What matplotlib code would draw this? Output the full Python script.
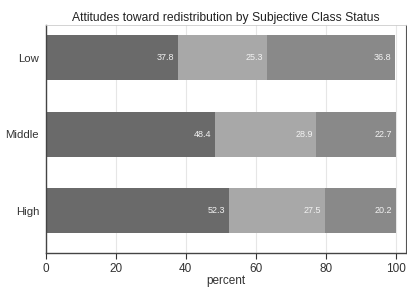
import matplotlib
matplotlib.use("Agg")
import matplotlib.pyplot as plt
import numpy as np

plt.rcParams["font.family"] = ["Liberation Sans", "DejaVu Sans"]

categories = ["High", "Middle", "Low"]
seg1 = [52.3, 48.4, 37.8]
seg2 = [27.5, 28.9, 25.3]
seg3 = [20.2, 22.7, 36.8]
colors = ["#6a6a6a", "#a8a8a8", "#898989"]

fig = plt.figure(figsize=(4.07, 2.89), dpi=100)
ax = fig.add_axes([46 / 407, 1 - 253 / 289, 360 / 407, 228 / 289])

y = np.arange(len(categories))
left = np.zeros(len(categories))
for vals, c in zip([seg1, seg2, seg3], colors):
    vals = np.array(vals)
    ax.barh(y, vals, left=left, height=0.59, color=c, edgecolor="none", zorder=2)
    for yi, l, v in zip(y, left, vals):
        ax.text(l + v - 1.0, yi, f"{v:.1f}", ha="right", va="center",
                color="#f2f2f2", fontsize=6.5, zorder=3)
    left = left + vals

ax.set_xlim(0, 103)
ax.set_ylim(-0.55, 2.43)
ax.set_yticks(y)
ax.set_yticklabels(categories, fontsize=8.2, color="#333333")
ax.set_xticks([0, 20, 40, 60, 80, 100])
ax.tick_params(axis="x", labelsize=8.5, colors="#333333", length=4, width=0.8)
ax.tick_params(axis="y", length=0, pad=5)
ax.set_xlabel("percent", fontsize=8.5, labelpad=0, color="#333333")
ax.set_title("Attitudes toward redistribution by Subjective Class Status",
             fontsize=8.7, pad=3, color="#222222")

ax.grid(axis="x", color="#e6e6e6", linewidth=0.8, zorder=0)
for s in ["left", "bottom"]:
    ax.spines[s].set_color("#444444")
    ax.spines[s].set_linewidth(1.0)
ax.spines["top"].set_color("#cccccc")
ax.spines["top"].set_linewidth(0.6)
ax.spines["right"].set_color("#555555")
ax.spines["right"].set_linewidth(0.8)

fig.savefig("out.png", dpi=100)
